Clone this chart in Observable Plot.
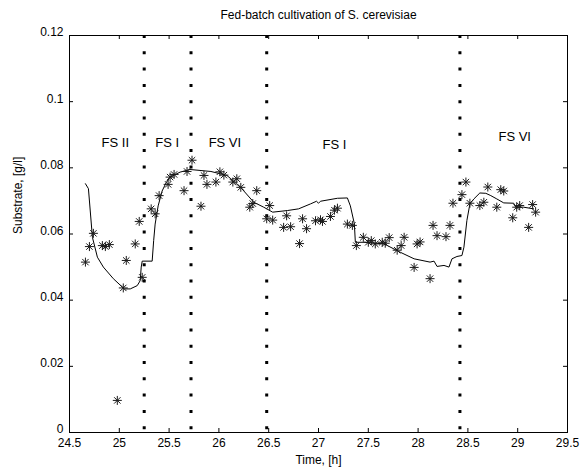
<!DOCTYPE html>
<html>
<head>
<meta charset="utf-8">
<script src="https://cdn.jsdelivr.net/npm/d3@7"></script>
<script src="https://cdn.jsdelivr.net/npm/@observablehq/plot@0.6"></script>
<style>
  body { margin: 0; background: #fff; }
  #chart svg { display: block; }
</style>
</head>
<body>
<div id="chart"></div>
<script>
// Measured substrate concentration (offline samples)
const measTime = [
  24.66, 24.70, 24.74, 24.83, 24.86, 24.90, 24.98, 25.04, 25.07, 25.16,
  25.20, 25.23, 25.32, 25.36, 25.40, 25.49, 25.51, 25.55, 25.65, 25.68,
  25.73, 25.82, 25.85, 25.88, 25.97, 26.01, 26.05, 26.14, 26.18, 26.22,
  26.31, 26.34, 26.38, 26.48, 26.51, 26.54, 26.65, 26.68, 26.72, 26.81,
  26.84, 26.88, 26.97, 27.02, 27.04, 27.12, 27.16, 27.19, 27.29, 27.34,
  27.38, 27.45, 27.50, 27.53, 27.57, 27.64, 27.67, 27.71, 27.79, 27.83,
  27.86, 27.96, 27.99, 28.02, 28.12, 28.15, 28.19, 28.28, 28.32, 28.35,
  28.44, 28.48, 28.52, 28.62, 28.66, 28.70, 28.79, 28.83, 28.86, 28.95,
  28.99, 29.02, 29.11, 29.15, 29.18
];
const measSubstrate = [
  0.0515, 0.0562, 0.0602, 0.0565, 0.0562, 0.0568, 0.0097, 0.0437, 0.0520, 0.0570,
  0.0638, 0.0469, 0.0676, 0.0661, 0.0716, 0.0750, 0.0772, 0.0780, 0.0731, 0.0789,
  0.0823, 0.0684, 0.0777, 0.0750, 0.0757, 0.0788, 0.0778, 0.0757, 0.0767, 0.0741,
  0.0681, 0.0692, 0.0731, 0.0646, 0.0686, 0.0642, 0.0620, 0.0655, 0.0622, 0.0571,
  0.0646, 0.0616, 0.0640, 0.0643, 0.0638, 0.0653, 0.0672, 0.0678, 0.0630, 0.0626,
  0.0565, 0.0590, 0.0575, 0.0580, 0.0570, 0.0575, 0.0572, 0.0589, 0.0551, 0.0565,
  0.0590, 0.0499, 0.0570, 0.0576, 0.0465, 0.0626, 0.0595, 0.0592, 0.0626, 0.0693,
  0.0719, 0.0757, 0.0693, 0.0686, 0.0696, 0.0742, 0.0681, 0.0734, 0.0730, 0.0649,
  0.0681, 0.0686, 0.0620, 0.0689, 0.0666
];

// Model-predicted substrate trajectory
const modelTime = [
  24.66, 24.69, 24.73, 24.78, 24.84, 24.94, 25.05, 25.11, 25.18, 25.21,
  25.22, 25.23, 25.33, 25.345, 25.36, 25.39, 25.43, 25.47, 25.51, 25.61,
  25.71, 25.92, 26.08, 26.12, 26.23, 26.35, 26.45, 26.54, 26.69, 26.80,
  26.92, 26.98, 27.00, 27.02, 27.19, 27.29, 27.32, 27.36, 27.37, 27.46,
  27.66, 27.82, 27.96, 28.12, 28.16, 28.19, 28.26, 28.31, 28.34, 28.39,
  28.44, 28.46, 28.49, 28.52, 28.56, 28.62, 28.68, 28.73, 28.79, 28.86,
  28.96, 28.98, 29.06, 29.16
];
const modelSubstrate = [
  0.0752, 0.0737, 0.0590, 0.0530, 0.0500, 0.0465, 0.0434, 0.0434, 0.0444, 0.0459,
  0.0500, 0.0518, 0.0518, 0.0580, 0.0630, 0.0685, 0.0730, 0.0755, 0.0772, 0.0787,
  0.0795, 0.0789, 0.0777, 0.0767, 0.0737, 0.0696, 0.0681, 0.0666, 0.0671, 0.0676,
  0.0691, 0.0699, 0.0693, 0.0699, 0.0708, 0.0709, 0.0685, 0.0631, 0.0575, 0.0575,
  0.0570, 0.0545, 0.0525, 0.0515, 0.0518, 0.0502, 0.0505, 0.0500, 0.0525, 0.0532,
  0.0535, 0.0560, 0.0641, 0.0691, 0.0706, 0.0724, 0.0723, 0.0716, 0.0706, 0.0694,
  0.0693, 0.0681, 0.0681, 0.0676
];

// Feeding-strategy switch times and phase labels
const switchTimes = [25.25, 25.72, 26.48, 28.42];
const phaseNames = ["FS II", "FS I", "FS VI", "FS I", "FS VI"];
const phaseTime = [24.96, 25.48, 26.06, 27.16, 28.97];
const phaseLevel = [0.0877, 0.0877, 0.0877, 0.0870, 0.0895];

// Axis ticks
const xTicks = [24.5, 25, 25.5, 26, 26.5, 27, 27.5, 28, 28.5, 29, 29.5];
const yTicks = [0, 0.02, 0.04, 0.06, 0.08, 0.1, 0.12];

const measured = measTime.map((t, i) => ({t, s: measSubstrate[i]}));
const model = modelTime.map((t, i) => ({t, s: modelSubstrate[i]}));
const phases = phaseNames.map((name, i) => ({name, t: phaseTime[i], s: phaseLevel[i]}));

// Eight-armed asterisk marker
const asterisk = {
  draw(ctx, size) {
    const r = Math.sqrt(size / Math.PI);
    const d = r * Math.SQRT1_2;
    ctx.moveTo(-r, 0); ctx.lineTo(r, 0);
    ctx.moveTo(0, -r); ctx.lineTo(0, r);
    ctx.moveTo(-d, -d); ctx.lineTo(d, d);
    ctx.moveTo(-d, d); ctx.lineTo(d, -d);
  }
};

const W = 588, H = 473;
const M = {left: 69, right: 21, top: 35, bottom: 41};
const plotW = W - M.left - M.right;
const plotH = H - M.top - M.bottom;
const tickLen = 4;

const font = "'Liberation Sans', Arial, Helvetica, sans-serif";

const chart = Plot.plot({
  width: W,
  height: H,
  marginLeft: M.left,
  marginRight: M.right,
  marginTop: M.top,
  marginBottom: M.bottom,
  style: {fontFamily: font, fontSize: "12px", color: "black", background: "white"},
  x: {domain: [24.5, 29.5]},
  y: {domain: [0, 0.12]},
  marks: [
    // switch markers
    Plot.ruleX(switchTimes, {stroke: "black", strokeWidth: 3, strokeDasharray: "3,13.3"}),
    // model curve
    Plot.line(model, {x: "t", y: "s", stroke: "black", strokeWidth: 1}),
    // measurements
    Plot.dot(measured, {x: "t", y: "s", symbol: asterisk, r: 4.5, fill: "none", stroke: "#1a1a1a", strokeWidth: 1}),
    // phase labels
    Plot.text(phases, {x: "t", y: "s", text: "name", fontSize: 13, fill: "black"}),
    // box with inward ticks on all four sides
    Plot.frame({stroke: "black"}),
    Plot.tickX(xTicks, {x: d => d, stroke: "black", insetTop: plotH - tickLen}),
    Plot.tickX(xTicks, {x: d => d, stroke: "black", insetBottom: plotH - tickLen}),
    Plot.tickY(yTicks, {y: d => d, stroke: "black", insetRight: plotW - tickLen}),
    Plot.tickY(yTicks, {y: d => d, stroke: "black", insetLeft: plotW - tickLen}),
    // tick labels
    Plot.axisX(xTicks, {anchor: "bottom", tickSize: 0, tickPadding: 6, label: null, fontSize: 12, tickFormat: d => String(d)}),
    Plot.axisY(yTicks, {anchor: "left", tickSize: 0, tickPadding: 6, label: null, fontSize: 12, tickFormat: d => String(d), dy: -3}),
    // title and axis labels
    Plot.text(["Fed-batch cultivation of S. cerevisiae"], {frameAnchor: "top", dy: -25, fontSize: 12, fill: "black"}),
    Plot.text(["Time, [h]"], {frameAnchor: "bottom", dy: 31, fontSize: 12, fill: "black"}),
    Plot.text(["Substrate, [g/l]"], {frameAnchor: "left", dx: -51, rotate: -90, fontSize: 12, fill: "black"})
  ]
});
document.getElementById("chart").appendChild(chart);
</script>
</body>
</html>
